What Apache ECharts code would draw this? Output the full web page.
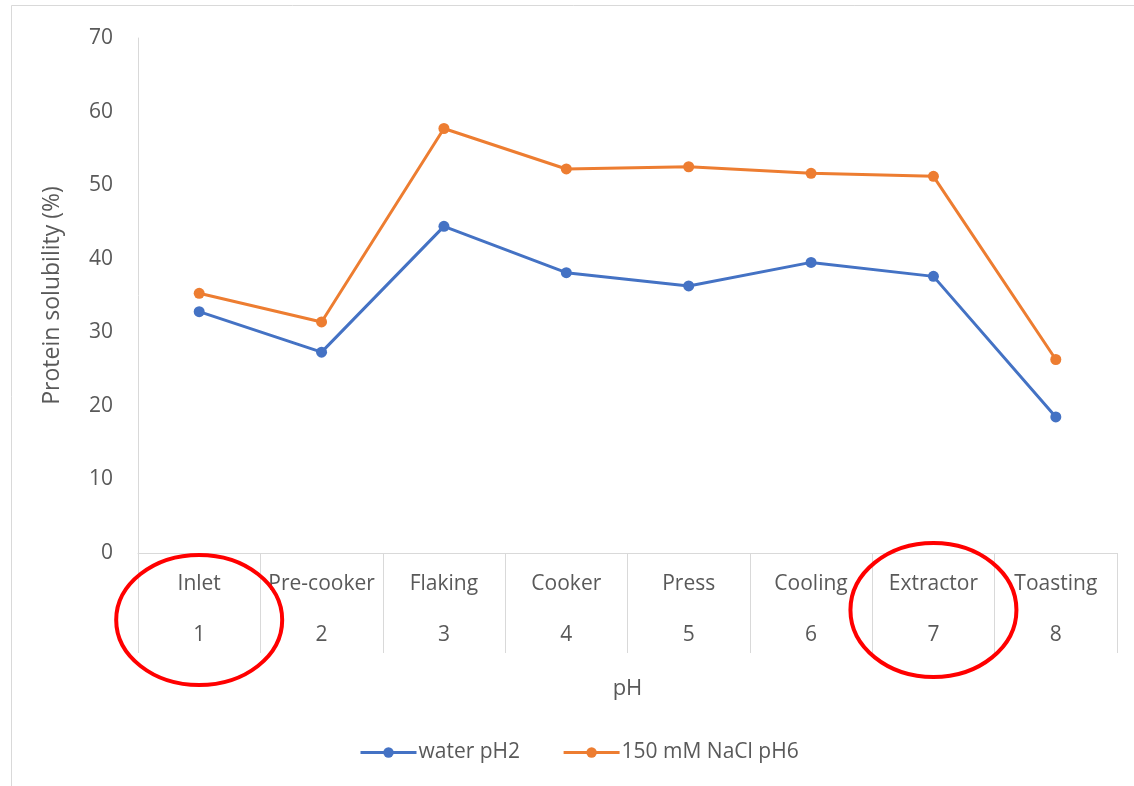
<!DOCTYPE html>
<html>
<head>
<meta charset="utf-8">
<script src="https://cdn.jsdelivr.net/npm/echarts@6/dist/echarts.min.js"></script>
<style>
html,body{margin:0;padding:0;background:#fff;}
#c{width:1134px;height:786px;}
</style>
</head>
<body>
<div id="c"></div>
<script>
const stages = ['Inlet','Pre-cooker','Flaking','Cooker','Press','Cooling','Extractor','Toasting'];
const stageNumbers = ['1','2','3','4','5','6','7','8'];
const waterPH2 = [32.8, 27.3, 44.4, 38.1, 36.3, 39.5, 37.6, 18.5];
const naclPH6 = [35.3, 31.4, 57.7, 52.2, 52.5, 51.6, 51.2, 26.3];
const yTicks = {min: 0, max: 70, interval: 10};
const circled = ['Inlet', 'Extractor'];

const FONT = '"Open Sans", "Noto Sans", sans-serif';
const TXT = '#595959';
const AX = '#d9d9d9';
const FS = 21;

const chart = echarts.init(document.getElementById('c'), null, {renderer: 'canvas'});
const option = {
  backgroundColor: '#fff',
  animation: false,
  textStyle: {fontFamily: FONT, color: TXT},
  grid: {left: 138, right: 17, top: 38, bottom: 233, containLabel: false},
  legend: {
    left: 354, top: 737,
    itemWidth: 56, itemHeight: 13, itemGap: 42,
    lineStyle: {width: 3},
    textStyle: {fontFamily: FONT, fontSize: FS, color: TXT, padding: [0,0,0,-3]},
    data: ['water pH2', '150 mM NaCl pH6']
  },
  xAxis: [
    {
      type: 'category', data: stages, position: 'bottom',
      axisLine: {show: true, lineStyle: {color: AX, width: 1}},
      axisTick: {show: true, interval: 0, length: 100, lineStyle: {color: AX, width: 1}},
      axisLabel: {interval: 0, margin: 21, fontSize: FS, color: TXT, fontFamily: FONT},
      name: 'pH', nameLocation: 'middle', nameGap: 125,
      nameTextStyle: {fontSize: 22, color: TXT, fontFamily: FONT}
    },
    {
      type: 'category', data: stageNumbers, position: 'bottom', offset: 0,
      axisLine: {show: false}, axisTick: {show: false},
      axisLabel: {interval: 0, margin: 72, fontSize: FS, color: TXT, fontFamily: FONT}
    }
  ],
  yAxis: {
    type: 'value', min: yTicks.min, max: yTicks.max, interval: yTicks.interval,
    axisLine: {show: true, lineStyle: {color: AX, width: 1}},
    axisTick: {show: false},
    splitLine: {show: false},
    axisLabel: {margin: 25, fontSize: FS, color: TXT, fontFamily: FONT},
    name: 'Protein solubility (%)', nameLocation: 'middle', nameGap: 74, nameRotate: 90,
    nameTextStyle: {fontSize: 23, color: TXT, fontFamily: FONT}
  },
  series: [
    {
      name: 'water pH2', type: 'line', data: waterPH2, xAxisIndex: 0,
      symbol: 'circle', symbolSize: 11,
      lineStyle: {color: '#4472C4', width: 3},
      itemStyle: {color: '#4472C4'}
    },
    {
      name: '150 mM NaCl pH6', type: 'line', data: naclPH6, xAxisIndex: 0,
      symbol: 'circle', symbolSize: 11,
      lineStyle: {color: '#ED7D31', width: 3},
      itemStyle: {color: '#ED7D31'}
    }
  ]
};
chart.setOption(option);

// annotations: page border and red ellipses round circled category labels
const axisY = chart.convertToPixel({yAxisIndex: 0}, 0);
const yOffsets = [67, 57];
const els = [
  {type: 'rect', shape: {x: 11.5, y: 5.5, width: 1400, height: 1000}, style: {fill: 'none', stroke: AX, lineWidth: 1}, silent: true, z: -1}
];
circled.forEach(function (name, i) {
  const cx = chart.convertToPixel({xAxisIndex: 0}, name);
  els.push({
    type: 'ellipse',
    shape: {cx: cx, cy: axisY + yOffsets[i], rx: 83, ry: 65 + i * 2},
    style: {fill: 'none', stroke: '#ff0000', lineWidth: 4},
    silent: true, z: 100
  });
});
chart.setOption({graphic: {elements: els}});
</script>
</body>
</html>
